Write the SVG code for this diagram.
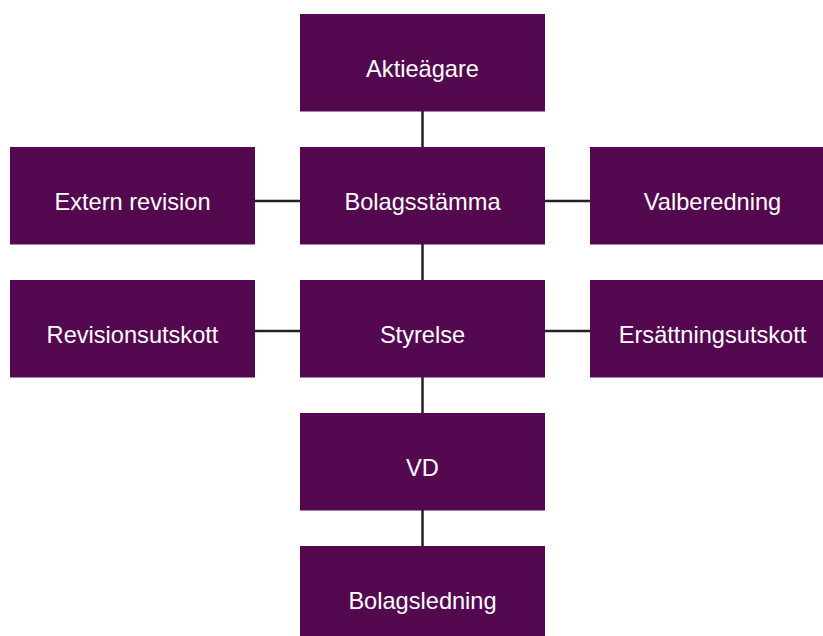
<svg xmlns="http://www.w3.org/2000/svg" width="823" height="636" viewBox="0 0 823 636">
<style>
.box{fill:#54084F}
.lbl{fill:#ffffff;font-family:"Liberation Sans",Arial,sans-serif;font-size:23.6px;text-anchor:middle}
.ln{stroke:#222222;stroke-width:2.5;fill:none}
</style>
<rect width="823" height="636" fill="#ffffff"/>
<g id="connectors">
<line class="ln" x1="422.5" y1="111" x2="422.5" y2="147"/>
<line class="ln" x1="422.5" y1="244" x2="422.5" y2="280"/>
<line class="ln" x1="422.5" y1="377" x2="422.5" y2="413"/>
<line class="ln" x1="422.5" y1="510" x2="422.5" y2="546"/>
<line class="ln" x1="255" y1="201" x2="300" y2="201"/>
<line class="ln" x1="545" y1="201" x2="590" y2="201"/>
<line class="ln" x1="255" y1="331" x2="300" y2="331"/>
<line class="ln" x1="545" y1="331" x2="590" y2="331"/>
</g>
<g id="aktieagare"><rect class="box" x="300" y="14" width="245" height="97.5"/><text class="lbl" x="422.5" y="77">Aktieägare</text></g>
<g id="bolagsstamma"><rect class="box" x="300" y="147" width="245" height="97.5"/><text class="lbl" x="422.5" y="210">Bolagsstämma</text></g>
<g id="extern-revision"><rect class="box" x="10" y="147" width="245" height="97.5"/><text class="lbl" x="132.5" y="210">Extern revision</text></g>
<g id="valberedning"><rect class="box" x="590" y="147" width="245" height="97.5"/><text class="lbl" x="712.5" y="210">Valberedning</text></g>
<g id="styrelse"><rect class="box" x="300" y="280" width="245" height="97.5"/><text class="lbl" x="422.5" y="343">Styrelse</text></g>
<g id="revisionsutskott"><rect class="box" x="10" y="280" width="245" height="97.5"/><text class="lbl" x="132.5" y="343">Revisionsutskott</text></g>
<g id="ersattningsutskott"><rect class="box" x="590" y="280" width="245" height="97.5"/><text class="lbl" x="712.5" y="343">Ersättningsutskott</text></g>
<g id="vd"><rect class="box" x="300" y="413" width="245" height="97.5"/><text class="lbl" x="422.5" y="476">VD</text></g>
<g id="bolagsledning"><rect class="box" x="300" y="546" width="245" height="97.5"/><text class="lbl" x="422.5" y="609">Bolagsledning</text></g>
</svg>
